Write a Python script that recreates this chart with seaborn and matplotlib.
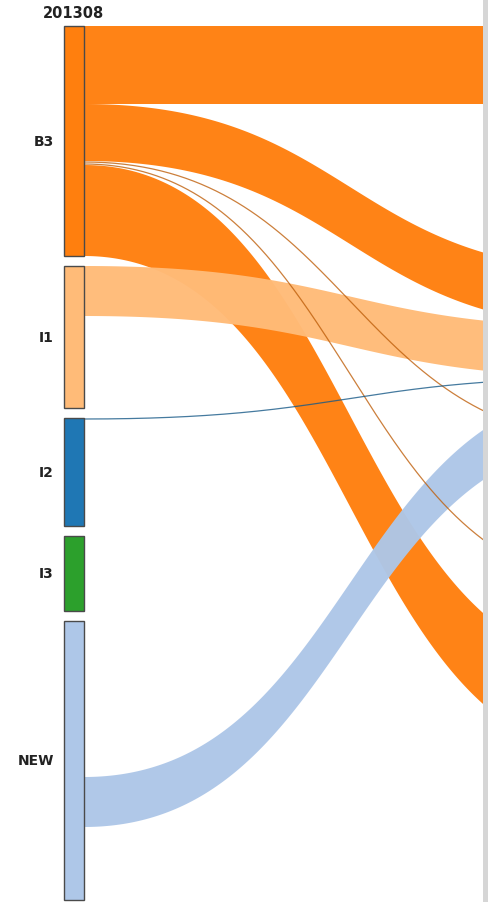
import numpy as np
import matplotlib
matplotlib.use("Agg")
import matplotlib.pyplot as plt
from matplotlib.patches import Rectangle
import seaborn as sns

# data
period = "201308"
states = ["B3", "I1", "I2", "I3", "NEW"]
left_totals = [230, 142, 108, 75, 279]
right_totals = [234, 109, 184, 73, 234]

# listed in stacking order (per source and per target)
flow_src = ["B3", "B3", "NEW", "NEW", "B3", "B3", "B3", "I1", "I2"]
flow_dst = ["B3", "I1", "B3", "I2", "I2", "I3", "NEW", "I1", "I1"]
flow_val = [78, 57, 156, 50, 2, 2, 91, 50, 2]
flow_shown = [True, True, False, True, True, True, True, True, True]

sns.set_theme(style="white")
pal = sns.color_palette("tab20")
state_colors = {"B3": pal[2], "I1": pal[3], "I2": pal[0], "I3": pal[4], "NEW": pal[1]}

top = 27
gap = 10
node_w = 20
x_left = 64
x_right = 616


def stack(totals):
    pos = {}
    y = top
    for s, h in zip(states, totals):
        pos[s] = y
        y += h + gap
    return pos


left_pos = stack(left_totals)
right_pos = stack(right_totals)

fig = plt.figure(figsize=(4.89, 9.03), dpi=100)
ax = fig.add_axes([0, 0, 483 / 489, 1])
ax.set_xlim(0, 483)
ax.set_ylim(903, 0)
ax.axis("off")

# where each flow leaves its source and enters its target
out_off = dict(left_pos)
in_off = dict(right_pos)
src_y, dst_y = {}, {}
for i in range(len(flow_val)):
    src_y[i] = out_off[flow_src[i]]
    out_off[flow_src[i]] += flow_val[i]
    dst_y[i] = in_off[flow_dst[i]]
    in_off[flow_dst[i]] += flow_val[i]

t = np.linspace(0, 1, 300)
x0 = x_left + node_w
x1 = x_right
xm = (x0 + x1) / 2
xs = (1 - t) ** 3 * x0 + 3 * (1 - t) ** 2 * t * xm + 3 * (1 - t) * t ** 2 * xm + t ** 3 * x1
ease = 3 * t ** 2 - 2 * t ** 3

draw_order = sorted(range(len(flow_val)), key=lambda i: states.index(flow_src[i]))
for i in draw_order:
    if not flow_shown[i]:
        continue
    c = state_colors[flow_src[i]]
    y0a, y1a = src_y[i], dst_y[i]
    y0b, y1b = y0a + flow_val[i], y1a + flow_val[i]
    ya = y0a + (y1a - y0a) * ease
    yb = y0b + (y1b - y0b) * ease
    if flow_val[i] <= 3:
        dark = tuple(np.array(c) * 0.75)
        ax.plot(xs, (ya + yb) / 2, color=dark, lw=0.9, alpha=0.8, zorder=3)
    else:
        ax.fill_between(xs, ya, yb, color=c, alpha=0.97, lw=0, zorder=2)

for s, h in zip(states, left_totals):
    ax.add_patch(Rectangle((x_left, left_pos[s]), node_w, h,
                           facecolor=state_colors[s], edgecolor="#4a4a4a",
                           lw=1.0, zorder=4))
    ax.text(x_left - 10, left_pos[s] + h / 2, s, ha="right", va="center",
            fontsize=10, fontweight="bold", color="#222222")

for s, h in zip(states, right_totals):
    ax.add_patch(Rectangle((x_right, right_pos[s]), node_w, h,
                           facecolor=state_colors[s], edgecolor="#4a4a4a",
                           lw=1.0, zorder=4))

ax.text(x_left + node_w / 2, 14, period, ha="center", va="center",
        fontsize=10.5, fontweight="bold", color="#222222")

fig.patches.append(Rectangle((483 / 489, 0), 6 / 489, 1, transform=fig.transFigure,
                             facecolor="#d6d6d6", edgecolor="none"))

fig.savefig("out.png", dpi=100)
